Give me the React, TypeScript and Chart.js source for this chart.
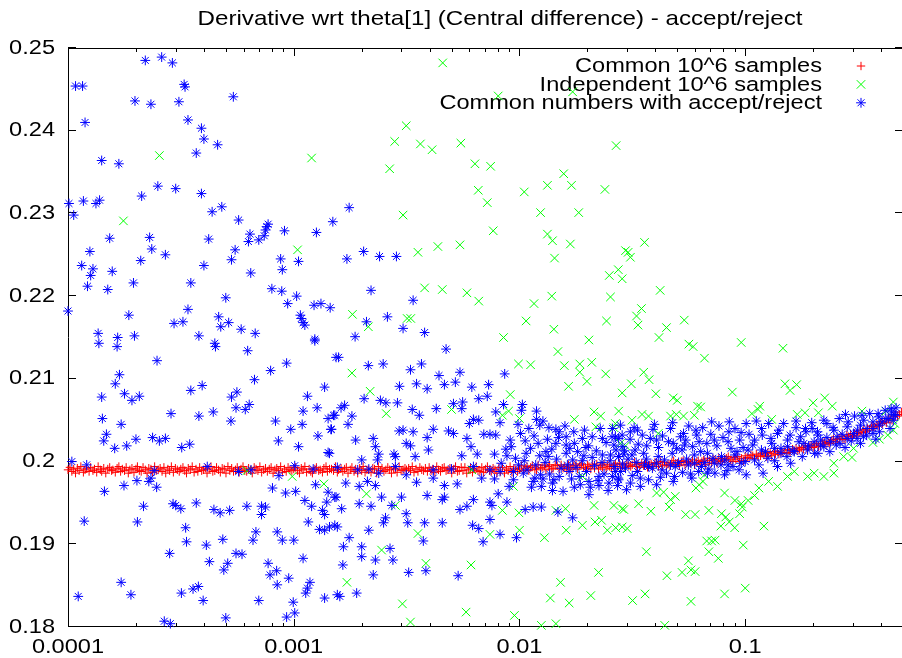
import React, { useEffect, useRef } from "react";
import { Chart, registerables } from "chart.js";

Chart.register(...registerables);

// ---------------- data ----------------
const TITLE = "Derivative wrt theta[1] (Central difference) - accept/reject";
const seriesNames = [
  "Common 10^6 samples",
  "Independent 10^6 samples",
  "Common numbers with accept/reject",
];

const xMin = 0.0001;
const xMax = 0.5;
const yMin = 0.18;
const yMax = 0.25;

const xMajorTicks = [0.0001, 0.001, 0.01, 0.1];
const xTickLabels = ["0.0001", "0.001", "0.01", "0.1"];
const xMinorTicks = [
  2e-4, 3e-4, 4e-4, 5e-4, 6e-4, 7e-4, 8e-4, 9e-4,
  2e-3, 3e-3, 4e-3, 5e-3, 6e-3, 7e-3, 8e-3, 9e-3,
  2e-2, 3e-2, 4e-2, 5e-2, 6e-2, 7e-2, 8e-2, 9e-2,
  0.2, 0.3, 0.4,
];
const yTicks = [0.18, 0.19, 0.2, 0.21, 0.22, 0.23, 0.24, 0.25];
const yTickLabels = ["0.18", "0.19", "0.2", "0.21", "0.22", "0.23", "0.24", "0.25"];

// Common 10^6 samples (red +)
const commonSamples: [number, number][] = [
  [1.00e-4,.1990],[1.02e-4,.1993],[1.04e-4,.1988],[1.06e-4,.1991],[1.08e-4,.1986],[1.10e-4,.1992],[1.12e-4,.1989],[1.14e-4,.1994],[1.17e-4,.1987],[1.19e-4,.1990],
  [1.21e-4,.1992],[1.24e-4,.1988],[1.26e-4,.1993],[1.29e-4,.1989],[1.31e-4,.1991],[1.34e-4,.1987],[1.36e-4,.1994],[1.39e-4,.1990],[1.41e-4,.1988],[1.44e-4,.1992],
  [1.47e-4,.1986],[1.50e-4,.1991],[1.53e-4,.1993],[1.56e-4,.1989],[1.58e-4,.1990],[1.62e-4,.1987],[1.65e-4,.1992],[1.68e-4,.1994],[1.71e-4,.1988],[1.74e-4,.1991],
  [1.78e-4,.1989],[1.81e-4,.1993],[1.85e-4,.1986],[1.88e-4,.1990],[1.92e-4,.1992],[1.96e-4,.1987],[2.00e-4,.1991],[2.03e-4,.1994],[2.07e-4,.1989],[2.11e-4,.1988],
  [2.15e-4,.1993],[2.20e-4,.1990],[2.24e-4,.1986],[2.28e-4,.1992],[2.33e-4,.1991],[2.37e-4,.1987],[2.42e-4,.1994],[2.46e-4,.1989],[2.51e-4,.1990],[2.56e-4,.1992],
  [2.61e-4,.1988],[2.66e-4,.1993],[2.71e-4,.1986],[2.77e-4,.1991],[2.82e-4,.1989],[2.87e-4,.1994],[2.93e-4,.1987],[2.99e-4,.1992],[3.05e-4,.1990],[3.11e-4,.1988],
  [3.16e-4,.1991],[3.23e-4,.1993],[3.29e-4,.1989],[3.35e-4,.1986],[3.41e-4,.1992],[3.48e-4,.1990],[3.55e-4,.1994],[3.62e-4,.1987],[3.69e-4,.1991],[3.76e-4,.1988],
  [3.83e-4,.1993],[3.91e-4,.1989],[3.98e-4,.1990],[4.06e-4,.1992],[4.13e-4,.1986],[4.22e-4,.1991],[4.30e-4,.1994],[4.38e-4,.1988],[4.47e-4,.1989],[4.55e-4,.1993],
  [4.64e-4,.1990],[4.73e-4,.1987],[4.82e-4,.1992],[4.92e-4,.1991],[5.01e-4,.1986],[5.11e-4,.1994],[5.21e-4,.1989],[5.31e-4,.1992],[5.41e-4,.1988],[5.52e-4,.1990],
  [5.62e-4,.1993],[5.73e-4,.1987],[5.84e-4,.1991],[5.96e-4,.1994],[6.07e-4,.1989],[6.19e-4,.1988],[6.31e-4,.1992],[6.43e-4,.1990],[6.55e-4,.1986],[6.68e-4,.1993],
  [6.81e-4,.1991],[6.94e-4,.1989],[7.08e-4,.1994],[7.21e-4,.1987],[7.36e-4,.1990],[7.50e-4,.1992],[7.64e-4,.1988],[7.79e-4,.1991],[7.94e-4,.1993],[8.10e-4,.1986],
  [8.25e-4,.1990],[8.41e-4,.1992],[8.58e-4,.1989],[8.75e-4,.1994],[8.91e-4,.1987],[9.09e-4,.1991],[9.26e-4,.1988],[9.44e-4,.1993],[9.62e-4,.1990],[9.81e-4,.1989],
  [1.00e-3,.1991],[1.02e-3,.1993],[1.04e-3,.1989],[1.06e-3,.1986],[1.08e-3,.1992],[1.10e-3,.1990],[1.12e-3,.1994],[1.14e-3,.1987],[1.17e-3,.1991],[1.19e-3,.1988],
  [1.21e-3,.1986],[1.24e-3,.1991],[1.26e-3,.1993],[1.29e-3,.1989],[1.31e-3,.1990],[1.34e-3,.1987],[1.36e-3,.1992],[1.39e-3,.1994],[1.41e-3,.1988],[1.44e-3,.1991],
  [1.47e-3,.1991],[1.50e-3,.1989],[1.53e-3,.1994],[1.56e-3,.1987],[1.58e-3,.1990],[1.62e-3,.1992],[1.65e-3,.1988],[1.68e-3,.1991],[1.71e-3,.1993],[1.74e-3,.1986],
  [1.78e-3,.1990],[1.81e-3,.1993],[1.85e-3,.1988],[1.88e-3,.1991],[1.92e-3,.1986],[1.96e-3,.1992],[2.00e-3,.1989],[2.03e-3,.1994],[2.07e-3,.1987],[2.11e-3,.1990],
  [2.15e-3,.1990],[2.20e-3,.1987],[2.24e-3,.1992],[2.28e-3,.1991],[2.33e-3,.1986],[2.37e-3,.1994],[2.42e-3,.1989],[2.46e-3,.1992],[2.51e-3,.1988],[2.56e-3,.1990],
  [2.61e-3,.1993],[2.66e-3,.1990],[2.71e-3,.1986],[2.77e-3,.1992],[2.82e-3,.1991],[2.87e-3,.1987],[2.93e-3,.1994],[2.99e-3,.1989],[3.05e-3,.1990],[3.11e-3,.1992],
  [3.16e-3,.1990],[3.23e-3,.1992],[3.29e-3,.1989],[3.35e-3,.1994],[3.41e-3,.1987],[3.48e-3,.1991],[3.55e-3,.1988],[3.62e-3,.1993],[3.69e-3,.1990],[3.76e-3,.1989],
  [3.83e-3,.1992],[3.91e-3,.1988],[3.98e-3,.1993],[4.06e-3,.1989],[4.13e-3,.1991],[4.22e-3,.1987],[4.30e-3,.1994],[4.38e-3,.1990],[4.47e-3,.1988],[4.55e-3,.1992],
  [4.64e-3,.1993],[4.73e-3,.1989],[4.82e-3,.1990],[4.92e-3,.1992],[5.01e-3,.1986],[5.11e-3,.1991],[5.21e-3,.1994],[5.31e-3,.1988],[5.41e-3,.1989],[5.52e-3,.1993],
  [5.62e-3,.1989],[5.73e-3,.1993],[5.84e-3,.1986],[5.96e-3,.1990],[6.07e-3,.1992],[6.19e-3,.1987],[6.31e-3,.1991],[6.43e-3,.1994],[6.55e-3,.1989],[6.68e-3,.1988],
  [6.81e-3,.1993],[6.94e-3,.1987],[7.08e-3,.1991],[7.21e-3,.1994],[7.36e-3,.1989],[7.50e-3,.1988],[7.64e-3,.1992],[7.79e-3,.1990],[7.94e-3,.1986],[8.10e-3,.1993],
  [8.25e-3,.1988],[8.41e-3,.1993],[8.58e-3,.1986],[8.75e-3,.1991],[8.91e-3,.1989],[9.09e-3,.1994],[9.26e-3,.1987],[9.44e-3,.1992],[9.62e-3,.1990],[9.81e-3,.1988],
  [1.00e-2,.1991],[1.02e-2,.1995],[1.04e-2,.1989],[1.06e-2,.1992],[1.08e-2,.1994],[1.10e-2,.1989],[1.12e-2,.1993],[1.14e-2,.1995],[1.17e-2,.1991],[1.19e-2,.1990],
  [1.21e-2,.1996],[1.24e-2,.1992],[1.26e-2,.1993],[1.29e-2,.1995],[1.31e-2,.1990],[1.34e-2,.1994],[1.36e-2,.1996],[1.39e-2,.1991],[1.41e-2,.1992],[1.44e-2,.1996],
  [1.47e-2,.1995],[1.50e-2,.1991],[1.53e-2,.1996],[1.56e-2,.1992],[1.58e-2,.1994],[1.62e-2,.1990],[1.65e-2,.1996],[1.68e-2,.1993],[1.71e-2,.1991],[1.74e-2,.1995],
  [1.78e-2,.1997],[1.81e-2,.1991],[1.85e-2,.1995],[1.88e-2,.1997],[1.92e-2,.1993],[1.96e-2,.1992],[2.00e-2,.1996],[2.03e-2,.1994],[2.07e-2,.1991],[2.11e-2,.1997],
  [2.15e-2,.1992],[2.20e-2,.1997],[2.24e-2,.1991],[2.28e-2,.1995],[2.33e-2,.1993],[2.37e-2,.1997],[2.42e-2,.1991],[2.46e-2,.1996],[2.51e-2,.1994],[2.56e-2,.1992],
  [2.61e-2,.1995],[2.66e-2,.1997],[2.71e-2,.1994],[2.77e-2,.1998],[2.82e-2,.1992],[2.87e-2,.1996],[2.93e-2,.1993],[2.99e-2,.1998],[3.05e-2,.1995],[3.11e-2,.1994],
  [3.16e-2,.1996],[3.23e-2,.1999],[3.29e-2,.1994],[3.35e-2,.1997],[3.41e-2,.1993],[3.48e-2,.1998],[3.55e-2,.1995],[3.62e-2,.1999],[3.69e-2,.1993],[3.76e-2,.1996],
  [3.83e-2,.1997],[3.91e-2,.1994],[3.98e-2,.1999],[4.06e-2,.1998],[4.13e-2,.1994],[4.22e-2,.2000],[4.30e-2,.1996],[4.38e-2,.1999],[4.47e-2,.1995],[4.55e-2,.1997],
  [4.64e-2,.1995],[4.73e-2,.1999],[4.82e-2,.2001],[4.92e-2,.1997],[5.01e-2,.1998],[5.11e-2,.1995],[5.21e-2,.2000],[5.31e-2,.2001],[5.41e-2,.1996],[5.52e-2,.1999],
  [5.62e-2,.2000],[5.73e-2,.1998],[5.84e-2,.2002],[5.96e-2,.1996],[6.07e-2,.1999],[6.19e-2,.2001],[6.31e-2,.1997],[6.43e-2,.2000],[6.55e-2,.2002],[6.68e-2,.1996],
  [6.81e-2,.2004],[6.94e-2,.2001],[7.08e-2,.1998],[7.21e-2,.2003],[7.36e-2,.2002],[7.50e-2,.1998],[7.64e-2,.2004],[7.79e-2,.2000],[7.94e-2,.2001],[8.10e-2,.2003],
  [8.25e-2,.2004],[8.41e-2,.2006],[8.58e-2,.2002],[8.75e-2,.2000],[8.91e-2,.2005],[9.09e-2,.2003],[9.26e-2,.2006],[9.44e-2,.2000],[9.62e-2,.2004],[9.81e-2,.2001],
  [0.100,.2007],[0.102,.2005],[0.104,.2004],[0.106,.2008],[0.108,.2007],[0.110,.2004],[0.112,.2009],[0.114,.2006],[0.117,.2007],[0.119,.2010],
  [0.121,.2008],[0.124,.2006],[0.126,.2011],[0.129,.2010],[0.131,.2007],[0.134,.2012],[0.136,.2009],[0.139,.2012],[0.141,.2009],[0.144,.2011],
  [0.147,.2011],[0.150,.2014],[0.153,.2010],[0.156,.2014],[0.158,.2011],[0.162,.2015],[0.165,.2013],[0.168,.2016],[0.171,.2013],[0.174,.2015],
  [0.178,.2017],[0.181,.2015],[0.185,.2019],[0.188,.2015],[0.192,.2018],[0.196,.2020],[0.200,.2017],[0.203,.2020],[0.207,.2022],[0.211,.2018],
  [0.215,.2019],[0.220,.2022],[0.224,.2024],[0.228,.2021],[0.233,.2023],[0.237,.2022],[0.242,.2026],[0.246,.2027],[0.251,.2024],[0.256,.2027],
  [0.261,.2028],[0.266,.2030],[0.271,.2027],[0.277,.2027],[0.282,.2032],[0.287,.2030],[0.293,.2033],[0.299,.2030],[0.305,.2034],[0.311,.2032],
  [0.316,.2034],[0.323,.2037],[0.329,.2035],[0.335,.2039],[0.341,.2036],[0.348,.2040],[0.355,.2038],[0.362,.2043],[0.369,.2042],[0.376,.2042],
  [0.383,.2045],[0.391,.2043],[0.398,.2048],[0.406,.2046],[0.413,.2049],[0.422,.2047],[0.430,.2052],[0.438,.2051],[0.447,.2050],[0.455,.2055],
  [0.464,.2057],[0.473,.2055],[0.482,.2057],[0.492,.2060],[0.501,.2057],
];

// Independent 10^6 samples (green x)
const independentSamples: [number, number][] = [
  [2.54e-4,0.2370],[1.76e-4,0.2291],[1.2e-3,0.2367],[1.04e-3,0.2256],
  [6.2e-4,0.1989],[9.85e-4,0.1982],[1.36e-3,0.1973],
  [4.57e-3,0.2482],[8.05e-3,0.2442],[1.72e-2,0.2447],[3.15e-3,0.2406],[2.8e-3,0.2387],[3.64e-3,0.2384],[4.1e-3,0.2377],[5.5e-3,0.2385],[2.66e-3,0.2354],[6.35e-3,0.2360],
  [7.45e-3,0.2357],[6.57e-3,0.2328],[7.2e-3,0.2313],[1.05e-2,0.2326],[1.33e-2,0.2334],[1.57e-2,0.2348],[1.7e-2,0.2334],[2.39e-2,0.2329],[2.68e-2,0.2382],[1.24e-2,0.2301],
  [1.83e-2,0.2301],[3.05e-3,0.2298],[7.65e-3,0.2279],[1.33e-2,0.2275],[1.4e-2,0.2267],[1.68e-2,0.2263],[1.43e-2,0.2246],[3.55e-3,0.2253],[4.35e-3,0.2260],[5.45e-3,0.2262],
  [2.95e-2,0.2255],[2.5e-2,0.2225],[2.74e-2,0.2232],[2.85e-2,0.2221],[3.8e-3,0.2210],[4.55e-3,0.2208],[5.85e-3,0.2204],[6.6e-3,0.2194],[1.16e-2,0.2191],[1.39e-2,0.2200],
  [2.53e-2,0.2199],[1.82e-3,0.2178],[3.18e-3,0.2173],[3.3e-3,0.2173],[2.14e-3,0.2163],[1.07e-2,0.2170],[1.42e-2,0.2160],[2.43e-2,0.2170],[8.5e-3,0.2150],[2.03e-2,0.2147],
  [1.48e-2,0.2133],[9.9e-3,0.2118],[1.12e-2,0.2117],[1.58e-2,0.2116],[1.85e-2,0.2118],[2.09e-2,0.2120],[1.85e-2,0.2108],[1.99e-2,0.2097],[2.41e-2,0.2106],[1.65e-2,0.2091],
  [2.85e-2,0.2083],[1.81e-3,0.2107],[2.18e-3,0.2085],[9.1e-3,0.2081],[2.57e-3,0.2058],[5.0e-3,0.2063],[8.4e-3,0.2056],[8.95e-3,0.2061],[1.0e-2,0.2052],[1.75e-2,0.2051],
  [2.14e-2,0.2060],[2.29e-2,0.2055],[2.75e-2,0.2061],[2.62e-2,0.2041],[2.18e-2,0.2042],[6.15e-3,0.1990],[1.9e-2,0.1982],[9.4e-3,0.1970],[2.1e-3,0.1961],[2.82e-3,0.1947],
  [8.4e-3,0.1941],[9.95e-3,0.1938],[1.45e-2,0.1941],[1.6e-2,0.1943],[2.14e-2,0.1947],[2.62e-2,0.1947],[2.85e-2,0.1943],[2.16e-2,0.1927],[2.31e-2,0.1929],[2.45e-2,0.1917],
  [2.67e-2,0.1920],[2.85e-2,0.1921],[1.9e-2,0.1923],[1.61e-2,0.1917],[1.0e-2,0.1917],[7.4e-3,0.1912],[3.55e-3,0.1913],[1.29e-2,0.1908],[2.45e-3,0.1893],[3.85e-3,0.1877],
  [6.1e-3,0.1875],[2.24e-2,0.1866],[1.52e-2,0.1854],[1.72e-3,0.1854],[1.37e-2,0.1835],[1.66e-2,0.1829],[2.07e-2,0.1838],[3.03e-3,0.1828],[5.8e-3,0.1818],[9.5e-3,0.1814],
  [3.29e-3,0.1806],[1.25e-2,0.1802],[1.45e-2,0.1804],
  [3.58e-2,0.2265],[3.03e-2,0.2253],[3.1e-2,0.2247],[4.2e-2,0.2207],[3.47e-2,0.2185],[3.3e-2,0.2176],[3.35e-2,0.2165],[4.48e-2,0.2162],[5.37e-2,0.2171],[4.15e-2,0.2150],
  [5.63e-2,0.2142],[5.88e-2,0.2139],[9.6e-2,0.2144],[0.147,0.2137],[6.6e-2,0.2125],
  [3.55e-2,0.2108],[3.75e-2,0.2099],[3.13e-2,0.2094],[4.02e-2,0.2082],[4.8e-2,0.2077],[5.0e-2,0.2074],[0.150,0.2094],[0.158,0.2086],[0.169,0.2093],[8.77e-2,0.2084],
  [3.49e-2,0.2057],[3.73e-2,0.2055],[4.67e-2,0.2055],[4.95e-2,0.2057],[5.33e-2,0.2055],[5.95e-2,0.2056],[6.15e-2,0.2067],[6.35e-2,0.2066],[0.107,0.2058],[0.116,0.2067],
  [0.114,0.2063],[0.131,0.2051],[0.170,0.2057],[0.184,0.2059],[0.200,0.2071],[0.225,0.2077],[0.243,0.2067],[0.211,0.2059],[0.329,0.2061],[0.420,0.2061],
  [0.453,0.2072],[3.15e-2,0.2050],[2.66e-2,0.2046],[4.12e-2,0.2034],[2.8e-2,0.2022],[2.95e-2,0.2019],[3.37e-2,0.1949],[3.82e-2,0.1940],[2.9e-2,0.1942],[3.0e-2,0.1919],
  [5.45e-2,0.1936],[6.0e-2,0.1936],[6.9e-2,0.1941],[7.85e-2,0.1937],[8.2e-2,0.1933],[7.8e-2,0.1922],[8.98e-2,0.1920],[8.5e-2,0.1927],[9.45e-2,0.1937],[9.7e-2,0.1945],
  [0.103,0.1953],[0.110,0.1959],[0.115,0.1968],[0.121,0.1922],[4.05e-2,0.1962],[4.35e-2,0.1963],[4.67e-2,0.1954],[4.9e-2,0.1958],[4.6e-2,0.1945],[6.05e-2,0.1968],
  [6.25e-2,0.1972],[6.5e-2,0.1976],[6.6e-2,0.1984],[8.1e-2,0.1962],[9.0e-2,0.1953],[9.6e-2,0.1949],[0.127,0.1976],[0.139,0.1970],[0.154,0.1982],[0.165,0.1988],
  [0.189,0.1982],[0.202,0.1986],[0.223,0.1982],[0.247,0.1986],[0.247,0.1998],[0.273,0.2006],[0.297,0.2005],[0.302,0.2016],[0.368,0.2023],[0.393,0.2027],
  [0.428,0.2032],[0.453,0.2038],[0.460,0.2046],[3.65e-2,0.1891],[4.5e-2,0.1862],[5.25e-2,0.1866],[5.6e-2,0.1880],[5.75e-2,0.1869],[6.0e-2,0.1867],[6.75e-2,0.1904],
  [7.1e-2,0.1904],[6.9e-2,0.1891],[7.35e-2,0.1905],[7.6e-2,0.1883],[9.8e-2,0.1899],[0.100,0.1847],[3.17e-2,0.1832],[3.6e-2,0.1840],[5.75e-2,0.1831],[8.1e-2,0.1840],
  [4.4e-2,0.1802],
];

// Common numbers with accept/reject (blue *)
const acceptReject: [number, number][] = [
  [2.2e-4,0.2485],[2.6e-4,0.2489],[2.9e-4,0.2482],[1.08e-4,0.2454],[1.16e-4,0.2454],[3.27e-4,0.2456],[3.3e-4,0.2453],[1.98e-4,0.2436],[2.33e-4,0.2432],[3.1e-4,0.2435],
  [5.4e-4,0.2441],[1.19e-4,0.2410],[3.4e-4,0.2413],[3.9e-4,0.2403],[4.0e-4,0.2390],[4.6e-4,0.2383],[3.7e-4,0.2373],[1.41e-4,0.2364],[1.68e-4,0.2360],[2.5e-4,0.2333],
  [3.0e-4,0.2330],[2.12e-4,0.2321],[3.9e-4,0.2324],[1.01e-4,0.2312],[1.17e-4,0.2315],[1.33e-4,0.2312],[1.38e-4,0.2316],[1.06e-4,0.2298],[4.35e-4,0.2302],[4.8e-4,0.2308],
  [5.7e-4,0.2292],[1.53e-4,0.2270],[2.3e-4,0.2271],[2.35e-4,0.2257],[2.7e-4,0.2250],[4.2e-4,0.2269],[6.4e-4,0.2275],[6.3e-4,0.2266],[7.0e-4,0.2268],[7.4e-4,0.2273],
  [7.6e-4,0.2284],[7.7e-4,0.2287],[7.5e-4,0.2280],[9.1e-4,0.2279],[1.26e-3,0.2277],[1.49e-3,0.2290],[1.25e-4,0.2254],[5.5e-4,0.2256],[5.3e-4,0.2244],[1.15e-4,0.2237],
  [1.29e-4,0.2233],[1.26e-4,0.2225],[1.57e-4,0.2230],[2.1e-4,0.2243],[4.0e-4,0.2237],[6.45e-4,0.2228],[8.75e-4,0.2245],[8.9e-4,0.2232],[1.05e-3,0.2242],[1.22e-4,0.2212],
  [1.5e-4,0.2208],[1.95e-4,0.2216],[3.5e-4,0.2216],[5.0e-4,0.2198],[8.0e-4,0.2209],[8.85e-4,0.2206],[1.03e-3,0.2200],[9.4e-4,0.2191],[1.23e-3,0.2189],[1.32e-3,0.2191],
  [1.45e-3,0.2186],[1.0e-4,0.2182],[1.86e-4,0.2177],[3.4e-4,0.2184],[2.95e-4,0.2167],[3.23e-4,0.2169],[4.65e-4,0.2175],[4.75e-4,0.2163],[5.15e-4,0.2168],[5.85e-4,0.2160],
  [6.75e-4,0.2155],[1.07e-3,0.2177],[1.08e-3,0.2173],[1.1e-3,0.2168],[1.12e-3,0.2165],[1.36e-4,0.2155],[1.66e-4,0.2150],[1.97e-4,0.2152],[3.8e-4,0.2152],[1.24e-3,0.2148],
  [1.37e-4,0.2143],[1.65e-4,0.2139],[4.47e-4,0.2143],[4.5e-4,0.2139],[6.25e-4,0.2134],[1.24e-3,0.2146],[1.54e-3,0.2126],[2.48e-4,0.2122],[1.69e-4,0.2105],[1.62e-4,0.2094],
  [1.78e-4,0.2082],[1.92e-4,0.2074],[2.07e-4,0.2079],[1.41e-4,0.2078],[3.5e-4,0.2086],[3.93e-4,0.2092],[5.3e-4,0.2078],[5.6e-4,0.2084],[6.7e-4,0.2099],[7.9e-4,0.2110],
  [9.3e-4,0.2119],[1.15e-3,0.2079],[1.1e-3,0.2061],[1.27e-3,0.2065],[1.37e-3,0.2090],[1.42e-4,0.2052],[1.72e-4,0.2045],[2.86e-4,0.2058],[3.8e-4,0.2055],[4.4e-4,0.2060],
  [5.27e-4,0.2049],[5.55e-4,0.2065],[6.1e-4,0.2063],[6.35e-4,0.2069],[8.3e-4,0.2049],[9.7e-4,0.2039],[1.09e-3,0.2045],[1.42e-3,0.2052],[1.47e-3,0.2039],[1.52e-3,0.2056],
  [1.28e-3,0.2031],[1.48e-4,0.2033],[1.44e-4,0.2025],[1.61e-4,0.2016],[1.82e-4,0.2019],[2.0e-4,0.2027],[2.37e-4,0.2029],[2.54e-4,0.2025],[2.7e-4,0.2028],[3.19e-4,0.2017],
  [3.46e-4,0.2021],[8.55e-4,0.2025],[1.05e-3,0.2018],[1.44e-3,0.2010],[1.04e-4,0.2000],[1.21e-4,0.1996],[2.41e-4,0.1989],[4.14e-4,0.1994],[5.7e-4,0.1988],[6.47e-4,0.1990],
  [1.01e-3,0.1995],[1.22e-3,0.1991],[8.6e-4,0.1983],[1.77e-4,0.1971],[2.02e-4,0.1977],[2.28e-4,0.1976],[2.33e-4,0.1980],[2.47e-4,0.1969],[1.45e-4,0.1964],[8.05e-4,0.1968],
  [9.2e-4,0.1962],[1.02e-3,0.1964],[1.25e-3,0.1972],[1.12e-3,0.1953],[1.2e-3,0.1946],[1.4e-3,0.1951],[1.52e-3,0.1957],[2.92e-4,0.1949],[3.0e-4,0.1947],[3.16e-4,0.1943],
  [3.7e-4,0.1950],[4.43e-4,0.1942],[4.72e-4,0.1938],[5.2e-4,0.1941],[6.2e-4,0.1946],[7.2e-4,0.1946],[7.5e-4,0.1945],[7.2e-4,0.1936],[2.16e-4,0.1946],[1.18e-4,0.1928],
  [2.03e-4,0.1927],[3.32e-4,0.1920],[1.16e-3,0.1927],[1.34e-3,0.1941],[1.37e-3,0.1936],[1.3e-3,0.1918],[1.37e-3,0.1917],[1.44e-3,0.1921],[1.52e-3,0.1923],[3.35e-4,0.1903],
  [4.1e-4,0.1899],[4.85e-4,0.1906],[6.6e-4,0.1905],[6.8e-4,0.1915],[8.45e-4,0.1915],[8.9e-4,0.1905],[1.0e-3,0.1905],[2.82e-4,0.1889],[4.23e-4,0.1879],[5.1e-4,0.1877],
  [4.9e-4,0.1869],[5.55e-4,0.1889],[5.9e-4,0.1888],[7.7e-4,0.1877],[7.85e-4,0.1863],[8.4e-4,0.1868],[8.45e-4,0.1851],[9.5e-4,0.1859],[1.1e-3,0.1883],[1.18e-3,0.1854],
  [1.15e-3,0.1847],[1.13e-3,0.1841],[1.37e-3,0.1835],[1.56e-3,0.1839],[1.72e-4,0.1854],[1.9e-4,0.1839],[3.18e-4,0.1841],[3.58e-4,0.1846],[3.78e-4,0.1849],[3.97e-4,0.1832],
  [1.11e-4,0.1837],[7.0e-4,0.1832],[9.95e-4,0.1830],[9.3e-4,0.1812],[1.01e-3,0.1817],[2.67e-4,0.1807],[2.84e-4,0.1804],[5.0e-4,0.1811],
  [1.76e-3,0.2307],[1.72e-3,0.2245],[2.04e-3,0.2254],[2.4e-3,0.2248],[2.85e-3,0.2248],[2.2e-3,0.2207],[3.38e-3,0.2195],[2.1e-3,0.2169],[2.6e-3,0.2175],[3.05e-3,0.2161],
  [3.8e-3,0.2156],[1.87e-3,0.2151],
  [1.58e-3,0.2126],[4.73e-3,0.2136],[2.14e-3,0.2116],[2.49e-3,0.2118],[3.29e-3,0.2111],[3.68e-3,0.2118],[5.45e-3,0.2108],[4.4e-3,0.2104],[4.65e-3,0.2093],[5.2e-3,0.2096],
  [3.9e-3,0.2088],[3.5e-3,0.2094],[2.94e-3,0.2091],[6.15e-3,0.2090],[7.3e-3,0.2093],[6.6e-3,0.2076],[7.2e-3,0.2079],[8.6e-3,0.2106],[2.05e-3,0.2076],[2.42e-3,0.2074],
  [2.56e-3,0.2071],[2.88e-3,0.2071],[1.68e-3,0.2068],[1.62e-3,0.2065],[1.5e-3,0.2056],[1.81e-3,0.2055],[1.74e-3,0.2045],[1.46e-3,0.2039],[3.35e-3,0.2063],[3.6e-3,0.2056],
  [4.28e-3,0.2064],[5.1e-3,0.2070],[5.6e-3,0.2072],[5.55e-3,0.2064],[6.25e-3,0.2051],[6.6e-3,0.2050],[6.0e-3,0.2046],[7.85e-3,0.2060],[8.2e-3,0.2047],[8.5e-3,0.2069],
  [1.03e-2,0.2069],[1.02e-2,0.2062],[9.85e-3,0.2045],[1.19e-2,0.2061],[1.19e-2,0.2051],[1.23e-2,0.2044],[1.35e-2,0.2041],[1.45e-2,0.2039],[1.5e-2,0.2036],[1.61e-2,0.2030],
  [2.93e-3,0.2037],[3.05e-3,0.2038],[3.15e-3,0.2022],[3.38e-3,0.2036],[3.9e-3,0.2029],[4.15e-3,0.2039],[4.85e-3,0.2037],[5.1e-3,0.2034],[5.85e-3,0.2028],[6.95e-3,0.2033],
  [7.4e-3,0.2033],[7.85e-3,0.2032],[9.2e-3,0.2018],[1.06e-2,0.2025],[1.12e-2,0.2016],[1.31e-2,0.2012],[1.45e-2,0.2022],[1.61e-2,0.2020],[1.75e-2,0.2022],[1.9e-2,0.2028],
  [1.97e-2,0.2017],[2.33e-2,0.2028],[2.58e-2,0.2040],[2.62e-2,0.2020],[2.75e-2,0.2028],[2.85e-2,0.2032],[1.88e-3,0.2026],[2.25e-3,0.2028],[2.3e-3,0.2018],[2.38e-3,0.2009],
  [2.35e-3,0.2002],[2.78e-3,0.2009],[2.82e-3,0.2006],[3.45e-3,0.2006],[3.95e-3,0.2014],[3.29e-3,0.2019],[1.42e-3,0.2011],[5.55e-3,0.2007],[6.1e-3,0.2018],[6.5e-3,0.2009],
  [7.75e-3,0.2009],[8.8e-3,0.2007],[9.6e-3,0.2004],[1.07e-2,0.2010],[1.23e-2,0.2007],[1.34e-2,0.2006],[1.61e-2,0.2010],[1.72e-2,0.2002],[1.93e-2,0.2007],[2.1e-2,0.2005],
  [2.33e-2,0.2008],[2.53e-2,0.2008],[2.75e-2,0.2006],[2.9e-2,0.2009],[2.0e-3,0.2002],[1.56e-3,0.1993],[1.92e-3,0.1990],[2.15e-3,0.1991],[2.38e-3,0.1986],[2.82e-3,0.1994],
  [3.15e-3,0.1984],[4.15e-3,0.1990],[5.0e-3,0.1991],[6.25e-3,0.1994],[7.4e-3,0.1990],[8.2e-3,0.1988],[9.4e-3,0.1988],[1.04e-2,0.1986],[1.17e-2,0.1980],[1.27e-2,0.1979],
  [1.4e-2,0.1974],[1.5e-2,0.1982],[1.66e-2,0.1988],[1.84e-2,0.1982],[2.03e-2,0.1976],[2.25e-2,0.1982],[2.58e-2,0.1982],[2.8e-2,0.1988],[1.7e-3,0.1974],[1.95e-3,0.1970],
  [2.12e-3,0.1976],[2.3e-3,0.1971],[3.5e-3,0.1975],[4.15e-3,0.1980],[4.65e-3,0.1971],[5.3e-3,0.1973],[6.8e-3,0.1980],[7.75e-3,0.1979],[9.0e-3,0.1970],[1.15e-2,0.1976],
  [1.25e-2,0.1970],[1.4e-2,0.1965],[1.75e-2,0.1969],[2.03e-2,0.1960],[2.25e-2,0.1971],[2.49e-2,0.1974],[2.72e-2,0.1971],[1.42e-3,0.1963],[1.54e-3,0.1957],[1.95e-3,0.1949],
  [2.2e-3,0.1946],[2.45e-3,0.1957],[2.72e-3,0.1947],[3.0e-3,0.1957],[3.9e-3,0.1959],[4.55e-3,0.1954],[4.65e-3,0.1957],[5.45e-3,0.1942],[5.85e-3,0.1946],[6.25e-3,0.1954],
  [7.4e-3,0.1951],[8.05e-3,0.1961],[7.55e-3,0.1947],[8.8e-3,0.1951],[1.06e-2,0.1942],[1.15e-2,0.1945],[1.25e-2,0.1945],[1.48e-2,0.1939],[1.63e-3,0.1943],[1.56e-3,0.1921],
  [1.76e-3,0.1908],[1.66e-3,0.1897],[2.0e-3,0.1897],[2.0e-3,0.1885],[2.15e-3,0.1917],[2.55e-3,0.1932],[2.5e-3,0.1926],[2.3e-3,0.1881],[2.67e-3,0.1895],[2.75e-3,0.1881],
  [3.15e-3,0.1937],[3.2e-3,0.1926],[3.8e-3,0.1926],[4.55e-3,0.1926],[3.75e-3,0.1904],[6.2e-3,0.1923],[6.6e-3,0.1919],[6.9e-3,0.1903],[7.4e-3,0.1930],[8.2e-3,0.1912],
  [9.7e-3,0.1908],[1.72e-2,0.1932],[1.65e-3,0.1875],[2.25e-3,0.1863],[3.23e-3,0.1866],[3.85e-3,0.1868],[5.35e-3,0.1862],[1.6e-3,0.1837],[1.9e-3,0.1841],
  [2.66e-2,0.2030],[3.1e-2,0.2036],[3.33e-2,0.2038],[3.9e-2,0.2039],[4.67e-2,0.2040],[5.33e-2,0.2034],[6.05e-2,0.2038],[7.1e-2,0.2048],[8.5e-2,0.2048],[0.101,0.2046],
  [0.118,0.2040],[0.141,0.2038],[0.168,0.2041],[0.198,0.2040],[0.230,0.2046],[0.278,0.2057],[0.329,0.2056],[0.388,0.2058],[0.445,0.2060],
  [2.85e-2,0.2018],[3.25e-2,0.2014],[3.66e-2,0.2019],[4.05e-2,0.2026],[4.8e-2,0.2022],[5.45e-2,0.2026],[6.25e-2,0.2024],[7.3e-2,0.2026],[8.4e-2,0.2024],[9.45e-2,0.2026],
  [0.110,0.2026],[0.130,0.2028],[0.154,0.2026],[0.176,0.2030],[0.210,0.2032],[0.247,0.2038],[0.283,0.2042],[0.324,0.2044],[0.368,0.2048],[0.420,0.2052],[0.462,0.2056],
  [2.75e-2,0.2006],[3.15e-2,0.2008],[3.55e-2,0.2010],[4.12e-2,0.2006],[4.75e-2,0.2010],[5.25e-2,0.2014],[5.95e-2,0.2008],[6.8e-2,0.2010],[7.85e-2,0.2006],[9.0e-2,0.2008],
  [0.103,0.2014],[0.118,0.2014],[0.135,0.2016],[0.154,0.2018],[0.182,0.2022],[0.216,0.2026],[0.255,0.2030],[0.302,0.2034],[0.346,0.2040],[0.393,0.2044],[0.453,0.2050],
  [2.66e-2,0.1988],[2.95e-2,0.1992],[3.33e-2,0.1988],[3.73e-2,0.1994],[4.27e-2,0.1990],[4.9e-2,0.1994],[5.6e-2,0.1996],[6.4e-2,0.1994],[7.3e-2,0.1998],[8.4e-2,0.1996],
  [9.6e-2,0.1998],[0.110,0.2002],[0.126,0.2004],[0.144,0.2010],[0.165,0.2012],[0.189,0.2014],[0.223,0.2018],[0.263,0.2022],[0.313,0.2028],[0.368,0.2034],[0.438,0.2040],
  [2.75e-2,0.1978],[3.1e-2,0.1974],[3.43e-2,0.1970],[4.05e-2,0.1972],[4.8e-2,0.1976],[5.8e-2,0.1980],[6.8e-2,0.1986],[8.1e-2,0.1984],[0.101,0.1984],[0.120,0.1986],
  [0.139,0.1994],[0.159,0.1998],[0.210,0.2010],
  [0.186,0.2036],[0.202,0.2024],[0.239,0.2024],[0.283,0.2028],[0.334,0.2030],[0.393,0.2036],
  [8.3e-3,0.1998],[8.7e-3,0.2015],[9.1e-3,0.2026],[9.4e-3,0.1978],[9.9e-3,0.1996],[1.01e-2,0.2034],[1.05e-2,0.2001],[1.08e-2,0.1990],[1.1e-2,0.2040],[1.13e-2,0.1969],
  [1.16e-2,0.2031],[1.18e-2,0.1996],[1.21e-2,0.2022],[1.24e-2,0.1984],[1.27e-2,0.2049],[1.3e-2,0.1999],[1.33e-2,0.2027],[1.36e-2,0.1985],[1.39e-2,0.2015],[1.42e-2,0.1978],
  [1.46e-2,0.2003],[1.49e-2,0.2029],[1.53e-2,0.1992],[1.56e-2,0.1964],[1.59e-2,0.2043],[1.63e-2,0.1996],[1.67e-2,0.2016],[1.7e-2,0.1979],[1.74e-2,0.2036],[1.78e-2,0.1993],
  [1.81e-2,0.2012],[1.86e-2,0.1972],[1.9e-2,0.2001],[1.94e-2,0.2038],[1.98e-2,0.1988],[2.02e-2,0.2019],[2.06e-2,0.1969],[2.1e-2,0.2030],[2.15e-2,0.1995],[2.19e-2,0.2013],
  [2.23e-2,0.1977],[2.28e-2,0.2040],[2.32e-2,0.1999],[2.37e-2,0.1985],[2.42e-2,0.2023],[2.47e-2,0.1965],[2.52e-2,0.2001],[2.57e-2,0.2030],[2.63e-2,0.1994],[2.68e-2,0.2014],
  [2.74e-2,0.1980],[2.8e-2,0.2044],[2.86e-2,0.1997],[2.92e-2,0.2013],[2.98e-2,0.1966],
  [3.03e-2,0.2003],[3.09e-2,0.2027],[3.16e-2,0.1983],[3.22e-2,0.2041],[3.29e-2,0.1999],[3.36e-2,0.2021],[3.43e-2,0.1980],[3.5e-2,0.2032],[3.58e-2,0.1996],[3.65e-2,0.2003],
  [3.73e-2,0.1978],[3.8e-2,0.2028],[3.88e-2,0.1992],[3.96e-2,0.2045],[4.04e-2,0.1998],[4.13e-2,0.2017],[4.21e-2,0.1981],[4.3e-2,0.2031],[4.39e-2,0.2002],[4.48e-2,0.1986],
  [4.57e-2,0.2024],[4.67e-2,0.1996],[4.77e-2,0.2047],[4.86e-2,0.1982],[4.97e-2,0.2016],[5.07e-2,0.1999],[5.17e-2,0.2030],[5.28e-2,0.1987],[5.39e-2,0.2020],[5.5e-2,0.2003],
  [5.62e-2,0.2043],[5.73e-2,0.1985],[5.85e-2,0.2018],[5.97e-2,0.1998],[6.1e-2,0.2032],[6.22e-2,0.1988],[6.35e-2,0.2012],[6.48e-2,0.2041],[6.62e-2,0.1999],[6.76e-2,0.2022],
  [6.9e-2,0.1991],[7.04e-2,0.2033],[7.19e-2,0.2004],[7.34e-2,0.1986],[7.49e-2,0.2019],[7.65e-2,0.2043],[7.81e-2,0.1996],[7.97e-2,0.2029],[8.13e-2,0.2002],[8.3e-2,0.1989],
  [8.47e-2,0.2036],[8.65e-2,0.2016],[8.83e-2,0.1994],[9.01e-2,0.2040],[9.2e-2,0.2012],[9.39e-2,0.1990],[9.59e-2,0.2035],[9.79e-2,0.2017],
  [0.100,0.2000],[0.104,0.2033],[0.108,0.2020],[0.112,0.2049],[0.115,0.1996],[0.119,0.2032],[0.123,0.2012],[0.127,0.2046],[0.131,0.2022],[0.135,0.2001],
  [0.139,0.2034],[0.144,0.2016],[0.148,0.2046],[0.153,0.2006],[0.158,0.2032],[0.163,0.2013],[0.168,0.2049],[0.173,0.2024],[0.179,0.2006],[0.185,0.2040],
  [0.191,0.2019],[0.197,0.2047],[0.203,0.2010],[0.209,0.2036],[0.216,0.2020],[0.223,0.2050],[0.230,0.2029],[0.237,0.2012],[0.245,0.2041],[0.253,0.2020],
  [0.261,0.2052],[0.269,0.2033],[0.277,0.2017],[0.286,0.2048],[0.295,0.2025],[0.305,0.2055],[0.314,0.2038],[0.324,0.2022],[0.335,0.2050],[0.345,0.2032],
  [0.356,0.2058],[0.368,0.2040],[0.379,0.2027],[0.391,0.2054],[0.404,0.2048],[0.417,0.2062],[0.430,0.2052],[0.443,0.2064],[0.457,0.2057],[0.466,0.2065],
];

// ---------------- styling ----------------
const RED = "#ff0000";
const GREEN = "#00ff00";
const BLUE = "#0000ff";
const FONT = '"Liberation Sans", Arial, Helvetica, sans-serif';
const TEXT_STRETCH = 1.15;

const markerDefs = [
  { style: "cross", radius: 4.2, color: RED },
  { style: "crossRot", radius: 6.0, color: GREEN },
  { style: "star", radius: 4.9, color: BLUE },
];

function drawText(ctx: CanvasRenderingContext2D, text: string, x: number, y: number, align: CanvasTextAlign, size: number) {
  ctx.save();
  ctx.font = `${size}px ${FONT}`;
  ctx.fillStyle = "#000";
  ctx.textBaseline = "alphabetic";
  ctx.textAlign = align;
  ctx.translate(x, y);
  ctx.scale(TEXT_STRETCH, 1);
  ctx.fillText(text, 0, 0);
  ctx.restore();
}

function drawMarker(ctx: CanvasRenderingContext2D, style: string, x: number, y: number, r: number, color: string) {
  ctx.save();
  ctx.strokeStyle = color;
  ctx.lineWidth = 1;
  ctx.beginPath();
  if (style === "cross" || style === "star") {
    ctx.moveTo(x - r, y); ctx.lineTo(x + r, y);
    ctx.moveTo(x, y - r); ctx.lineTo(x, y + r);
  }
  if (style === "crossRot" || style === "star") {
    const d = r * Math.SQRT1_2;
    ctx.moveTo(x - d, y - d); ctx.lineTo(x + d, y + d);
    ctx.moveTo(x - d, y + d); ctx.lineTo(x + d, y - d);
  }
  ctx.stroke();
  ctx.restore();
}

const gnuplotFrame = {
  id: "gnuplotFrame",
  beforeDatasetsDraw(chart: any) {
    const { ctx, chartArea: a, scales } = chart;
    const xs = scales.x;
    const ys = scales.y;
    ctx.save();
    ctx.strokeStyle = "#000";
    ctx.lineWidth = 1;
    ctx.beginPath();
    ctx.rect(a.left + 0.5, a.top + 0.5, a.right - a.left - 1, a.bottom - a.top - 1);
    for (const v of yTicks) {
      const py = Math.round(ys.getPixelForValue(v)) - 0.5;
      ctx.moveTo(a.left, py); ctx.lineTo(a.left + 8, py);
      ctx.moveTo(a.right, py); ctx.lineTo(a.right - 8, py);
    }
    for (const v of xMajorTicks) {
      const px = Math.round(xs.getPixelForValue(v)) + 0.5;
      ctx.moveTo(px, a.bottom); ctx.lineTo(px, a.bottom - 8);
      ctx.moveTo(px, a.top); ctx.lineTo(px, a.top + 8);
    }
    for (const v of xMinorTicks) {
      const px = Math.round(xs.getPixelForValue(v)) + 0.5;
      ctx.moveTo(px, a.bottom); ctx.lineTo(px, a.bottom - 4);
      ctx.moveTo(px, a.top); ctx.lineTo(px, a.top + 4);
    }
    ctx.stroke();
    ctx.restore();

    yTicks.forEach((v, i) => {
      const py = ys.getPixelForValue(v);
      drawText(ctx, yTickLabels[i], a.left - 13, py + 5.5, "right", 20.5);
    });
    xMajorTicks.forEach((v, i) => {
      const px = xs.getPixelForValue(v);
      drawText(ctx, xTickLabels[i], px, a.bottom + 25.7, "center", 20.5);
    });
    drawText(ctx, TITLE, 500, 24.5, "center", 21);

    const textRight = 822;
    const markX = 861;
    seriesNames.forEach((name, i) => {
      const rowY = 65 + i * 18.4;
      drawText(ctx, name, textRight, rowY + 7.3, "right", 20.5);
      const m = markerDefs[i];
      drawMarker(ctx, m.style, markX, rowY + 1, m.radius, m.color);
    });
  },
};

function toPoints(arr: [number, number][]) {
  return arr.map(([x, y]) => ({ x, y }));
}

export default function App() {
  const canvasRef = useRef<HTMLCanvasElement | null>(null);

  useEffect(() => {
    const canvas = canvasRef.current;
    if (!canvas) return;
    const sources = [commonSamples, independentSamples, acceptReject];
    const orders = [3, 2, 1];
    const datasets = sources.map((src, i) => ({
      label: seriesNames[i],
      data: toPoints(src),
      order: orders[i],
      showLine: false,
      pointStyle: markerDefs[i].style,
      pointRadius: markerDefs[i].radius,
      pointHoverRadius: markerDefs[i].radius,
      pointBorderWidth: 1,
      borderColor: markerDefs[i].color,
      backgroundColor: markerDefs[i].color,
      clip: false as any,
    }));

    const chart = new Chart(canvas, {
      type: "scatter",
      data: { datasets: datasets as any },
      options: {
        responsive: false,
        animation: false,
        devicePixelRatio: 1,
        events: [],
        layout: { padding: { top: 48, right: 1, left: 0, bottom: 0 } },
        plugins: {
          legend: { display: false },
          title: { display: false },
          tooltip: { enabled: false },
        },
        scales: {
          x: {
            type: "logarithmic",
            min: xMin,
            max: xMax,
            grid: { display: false },
            border: { display: false },
            ticks: { display: false },
            afterFit: (s: any) => { s.height = 31; },
          },
          y: {
            type: "linear",
            min: yMin,
            max: yMax,
            grid: { display: false },
            border: { display: false },
            ticks: { display: false },
            afterFit: (s: any) => { s.width = 68; },
          },
        },
      },
      plugins: [gnuplotFrame],
    });
    return () => chart.destroy();
  }, []);

  return (
    <div style={{ position: "fixed", left: 0, top: 0, width: 902, height: 658, overflow: "hidden", background: "#fff" }}>
      <canvas ref={canvasRef} width={910} height={658} style={{ display: "block", width: 910, height: 658 }} />
    </div>
  );
}
